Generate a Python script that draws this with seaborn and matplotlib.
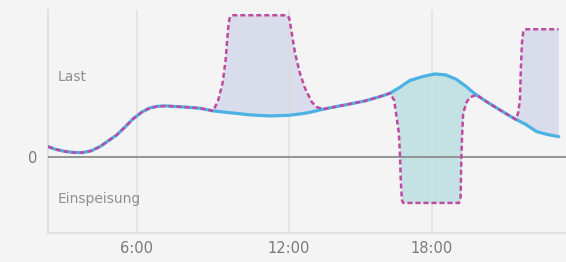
import numpy as np
import pandas as pd
import matplotlib
matplotlib.use("Agg")
import matplotlib.pyplot as plt
import seaborn as sns

# Data (hours of day, load values in arbitrary units)
hours = [2.49, 2.80, 3.16, 3.47, 3.83, 4.18, 4.54, 4.86, 5.2, 5.53,
         5.84, 6.2, 6.51, 6.83, 7.17, 7.82, 8.49, 9.01, 9.21, 9.38,
         9.5, 9.56, 9.62, 9.67, 9.8, 10.5, 11.2, 11.91, 12.01, 12.11,
         12.24, 12.43, 12.63, 12.9, 13.09, 13.36, 13.9, 14.41, 15.0, 15.59,
         15.99, 16.15, 16.25, 16.34, 16.38, 16.42, 16.46, 16.51, 16.78, 17.3,
         17.76, 18.2, 18.62, 18.72, 18.78, 18.8, 18.83, 18.88, 19.02, 19.15,
         19.41, 19.8, 20.2, 20.59, 20.96, 21.05, 21.12, 21.16, 21.2, 21.25,
         21.32, 21.78, 22.2, 22.65]
last = [1.03, 0.75, 0.55, 0.45, 0.43, 0.6, 1.03, 1.6, 2.2, 3.0,
        3.8, 4.5, 4.9, 5.07, 5.1, 5.0, 4.87, 4.6, 4.55, 4.5,
        4.47, 4.45, 4.43, 4.42, 4.39, 4.2, 4.1, 4.15, 4.18, 4.2,
        4.24, 4.3, 4.37, 4.5, 4.62, 4.78, 5.05, 5.3, 5.6, 6.03,
        6.37, 6.62, 6.78, 6.9, 6.95, 7.02, 7.1, 7.2, 7.65, 8.05,
        8.3, 8.2, 7.75, 7.55, 7.45, 7.4, 7.35, 7.27, 7.0, 6.7,
        6.2, 5.53, 4.9, 4.3, 3.75, 3.65, 3.55, 3.5, 3.45, 3.38,
        3.3, 2.53, 2.25, 2.03]
netz = [1.03, 0.75, 0.55, 0.45, 0.43, 0.6, 1.03, 1.6, 2.2, 3.0,
        3.8, 4.5, 4.9, 5.07, 5.1, 5.0, 4.87, 4.6, 5.7, 7.4,
        9.7, 11.7, 13.4, 14.0, 14.17, 14.17, 14.17, 14.17, 13.9, 12.4,
        10.4, 8.4, 6.9, 5.5, 5.0, 4.78, 5.05, 5.3, 5.6, 6.03,
        6.37, 5.7, 4.0, 2.4, 0.4, -2.6, -4.3, -4.6, -4.6, -4.6,
        -4.6, -4.6, -4.6, -4.6, -4.0, -1.0, 1.7, 4.4, 5.5, 5.97,
        6.2, 5.53, 4.9, 4.3, 3.75, 4.4, 5.7, 9.0, 11.4, 12.5,
        12.77, 12.77, 12.77, 12.77]

tick_pos = [6.0, 12.0, 17.65]
tick_labels = ["6:00", "12:00", "18:00"]

df = pd.DataFrame({"h": hours, "last": last, "netz": netz})

sns.set_theme(style="white")
plt.rcParams["font.family"] = ["DejaVu Sans"]

bg = "#f4f4f4"
fig = plt.figure(figsize=(5.66, 2.62), dpi=100, facecolor=bg)
ax = fig.add_axes([0.085, 0.111, 0.915, 0.851], facecolor=bg)

x = df["h"].values
a = df["last"].values
b = df["netz"].values
ax.fill_between(x, a, b, where=b >= a, interpolate=True,
                color="#d9dcea", lw=0, zorder=1)
ax.fill_between(x, a, b, where=b < a, interpolate=True,
                color="#c4e2e3", lw=0, zorder=1)

for t in tick_pos:
    ax.axvline(t, color="#dcdcdc", lw=1.2, alpha=0.8, zorder=2)
ax.axhline(0, color="#8c8c8c", lw=1.3, zorder=3)

sns.lineplot(data=df, x="h", y="last", ax=ax, color="#4cb2e4", lw=2.3,
             zorder=4, sort=False)
sns.lineplot(data=df, x="h", y="netz", ax=ax, color="#bf4a9f", lw=1.8,
             zorder=5, sort=False)
ax.lines[-1].set_linestyle((0, (2.0, 1.2)))
for ln in ax.lines[-2:]:
    ln.set_solid_joinstyle("round")
    ln.set_dash_joinstyle("round")

ax.set_xlim(2.49, 22.94)
ax.set_ylim(-7.6, 14.7)
ax.set_xticks(tick_pos)
ax.set_xticklabels(tick_labels)
ax.set_yticks([0])
ax.set_yticklabels(["0"])
ax.tick_params(axis="x", length=0, pad=6, labelsize=10.5, colors="#7a7a7a")
ax.tick_params(axis="y", length=0, pad=8, labelsize=10.5, colors="#7a7a7a")
ax.set_xlabel("")
ax.set_ylabel("")

for s in ["top", "right"]:
    ax.spines[s].set_visible(False)
ax.spines["left"].set_color("#e0e0e0")
ax.spines["left"].set_linewidth(1.5)
ax.spines["bottom"].set_color("#e0e0e0")
ax.spines["bottom"].set_linewidth(1.5)

ax.text(2.85, 8.0, "Last", fontsize=10, color="#8f8f8f", va="center")
ax.text(2.85, -4.2, "Einspeisung", fontsize=10, color="#8f8f8f", va="center")

fig.savefig("out.png", dpi=100, facecolor=bg)
